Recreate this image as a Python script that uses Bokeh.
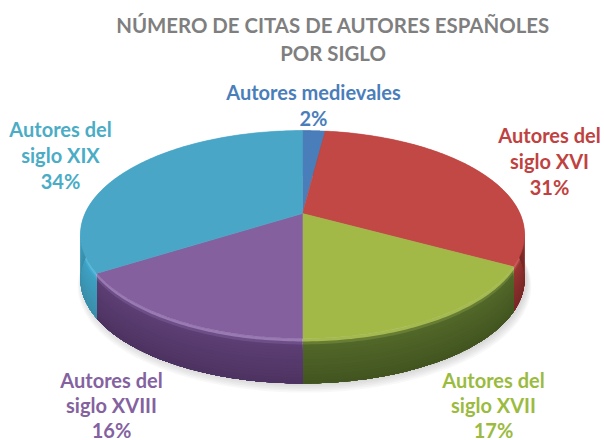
import numpy as np
from bokeh.plotting import figure
from bokeh.embed import file_html
from bokeh.resources import INLINE
from bokeh.models import Range1d
from bokeh.core.properties import value

# --- data (clockwise from 12 o'clock)
categories = ["Autores medievales", "Autores del siglo XVI", "Autores del siglo XVII",
              "Autores del siglo XVIII", "Autores del siglo XIX"]
percents = [2, 31, 17, 16, 34]
title_lines = ["NÚMERO DE CITAS DE AUTORES ESPAÑOLES", "POR SIGLO"]
label_lines = [["Autores medievales", "2%"],
               ["Autores del", "siglo XVI", "31%"],
               ["Autores del", "siglo XVII", "17%"],
               ["Autores del", "siglo XVIII", "16%"],
               ["Autores del", "siglo XIX", "34%"]]

# --- styles
top_colors = ["#4a7ebb", "#c14845", "#a2b948", "#85609f", "#4aa6c6"]
text_colors = ["#4a7ebb", "#c0423f", "#9bbb3f", "#8462a0", "#4bacc6"]
rim_colors = ["#5a8ccb", "#c95a57", "#a4ba50", "#9a7ab2", "#55bbe0"]
side_hi = ["#3a649a", "#9b3633", "#54692a", "#5f4077", "#3fa3c6"]
side_lo = ["#2c4c76", "#762725", "#415420", "#4c3260", "#3a8da8"]
label_anchor = [(313, 91), (549, 134), (493, 379), (111, 379), (60, 128)]
label_steps = [26, 26, 25, 25, 26]

# --- perspective disc geometry
CX, RX = 302, 217.5
AP, A, C = 213, 56.7, -0.2019
DEPTH = 45


def project(theta, scale=1.0):
    s = -np.cos(theta) * scale
    d = 1 + C * s
    return CX + RX * np.sin(theta) * scale / d, (A * s + AP) / d


def hexmix(a, b, t):
    ca = [int(a[i:i + 2], 16) for i in (1, 3, 5)]
    cb = [int(b[i:i + 2], 16) for i in (1, 3, 5)]
    return "#%02x%02x%02x" % tuple(int(round(x + (y - x) * t)) for x, y in zip(ca, cb))


p = figure(width=604, height=440, output_backend="svg", toolbar_location=None,
           x_range=Range1d(0, 604), y_range=Range1d(440, 0), min_border=0,
           outline_line_color=None)
p.axis.visible = False
p.grid.visible = False

frac = np.array(percents) / sum(percents)
edges = np.concatenate([[0], np.cumsum(frac)]) * 2 * np.pi

# soft shadow under the disc
full = np.linspace(0, 2 * np.pi, 240)
for k in range(6):
    sx, sy = project(full, 1.0 + 0.004 * k)
    p.patch(sx + 2, sy + DEPTH + 1 + k, fill_color="#808080", fill_alpha=0.06, line_color=None)

# side wall: overlapping depth bands per wedge, lit rim on top, darkening downwards
n_bands = 16
for i in range(len(percents)):
    th = np.linspace(edges[i], edges[i + 1], 60)
    x, y = project(th)
    for b in range(n_bands):
        f = b / (n_bands - 1)
        off = DEPTH * f
        if off < 4:
            col = hexmix(rim_colors[i], side_hi[i], off / 4)
        else:
            col = hexmix(side_hi[i], side_lo[i], f)
        px = np.concatenate([x, x[::-1]])
        py = np.concatenate([y + off, (y + DEPTH)[::-1]])
        p.patch(px, py, fill_color=col, line_color=None)

# top face
for i in range(len(percents)):
    th = np.linspace(edges[i], edges[i + 1], 120)
    x, y = project(th)
    p.patch(np.concatenate([[CX], x]), np.concatenate([[AP], y]),
            fill_color=top_colors[i], line_color=top_colors[i], line_width=0.5)

FONT = value("Lato")
for j, line in enumerate(title_lines):
    p.text([332.5], [24 + 28.5 * j], text=[line], text_align="center", text_baseline="middle",
           text_font=FONT, text_font_style="bold", text_font_size="20.4px", text_color="#7f7f7f")

for i, lines in enumerate(label_lines):
    ax, ay = label_anchor[i]
    for j, line in enumerate(lines):
        p.text([ax], [ay + label_steps[i] * j], text=[line], text_align="center", text_baseline="middle",
               text_font=FONT, text_font_style="bold", text_font_size="20px", text_color=text_colors[i])

open("out.html", "w").write(file_html(p, INLINE))
